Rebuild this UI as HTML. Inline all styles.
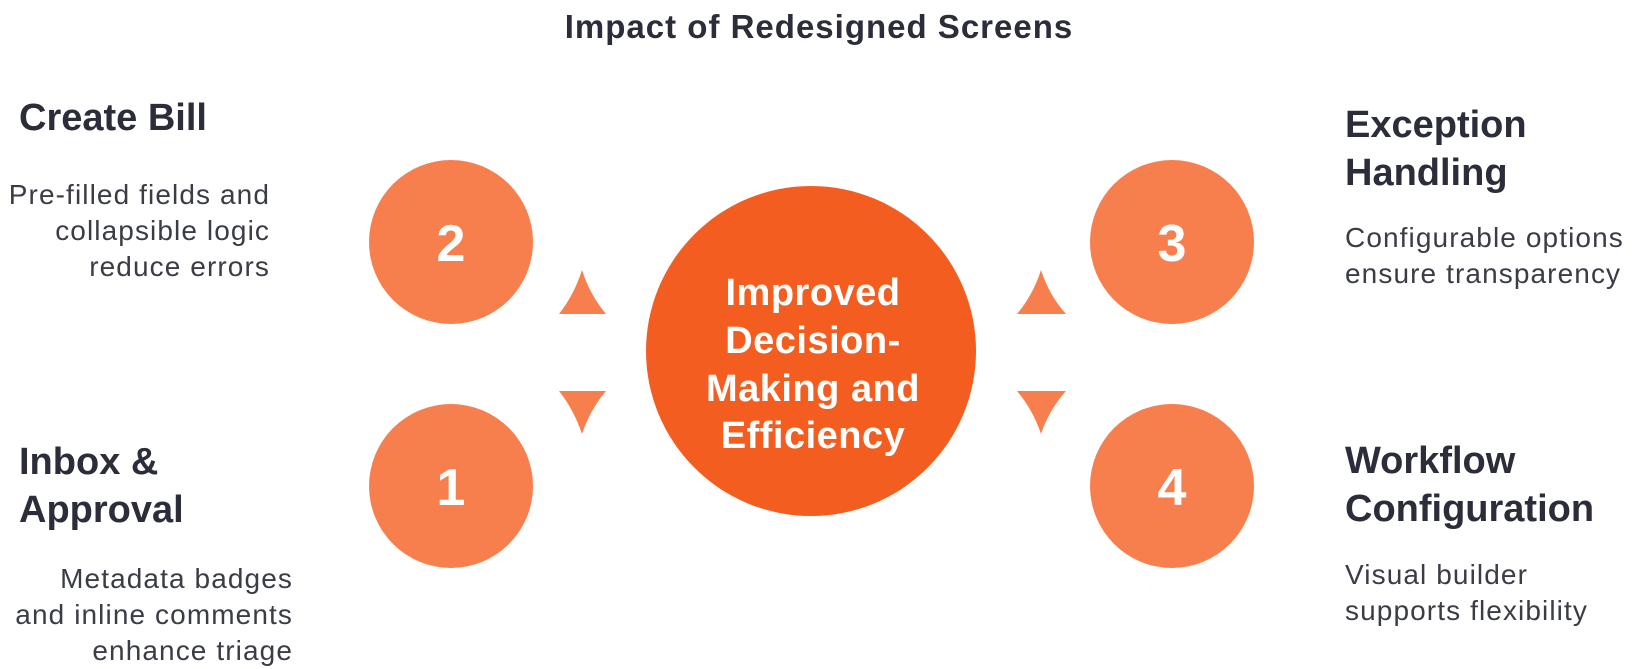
<!DOCTYPE html>
<html><head><meta charset="utf-8"><style>
html,body{margin:0;padding:0;background:#fff;}
body{width:1638px;height:668px;position:relative;overflow:hidden;font-family:"Liberation Sans",sans-serif;color:#2b2d3a;}
.t{position:absolute;white-space:nowrap;}
.h{font-weight:bold;font-size:38px;line-height:48px;letter-spacing:0px;}
.d{font-size:28px;line-height:36px;color:#3a3c46;letter-spacing:1.1px;}
.r{text-align:right;}
</style></head><body>
<svg width="1638" height="668" style="position:absolute;left:0;top:0">
<circle cx="451" cy="242" r="82" fill="#f77f4e"/>
<circle cx="451" cy="486" r="82" fill="#f77f4e"/>
<circle cx="1172" cy="242" r="82" fill="#f77f4e"/>
<circle cx="1172" cy="486" r="82" fill="#f77f4e"/>
<circle cx="811" cy="351" r="165" fill="#f45d20"/>
<path d="M582 270 Q590 295 606 314 L559 314 Q574 295 582 270Z" fill="#f77f4e"/>
<path d="M582 434 Q590 410 606 391 L559 391 Q574 410 582 434Z" fill="#f77f4e"/>
<path d="M1041 270 Q1049 295 1066 314 L1017 314 Q1033 295 1041 270Z" fill="#f77f4e"/>
<path d="M1041 434 Q1049 410 1066 391 L1017 391 Q1033 410 1041 434Z" fill="#f77f4e"/>
<g font-family="Liberation Sans, sans-serif" font-weight="bold" font-size="52" fill="#fff" text-anchor="middle">
<text x="451" y="261">2</text><text x="451" y="505">1</text>
<text x="1172" y="261">3</text><text x="1172" y="505">4</text>
</g>
<g font-family="Liberation Sans, sans-serif" font-weight="bold" font-size="38" fill="#fff" text-anchor="middle" letter-spacing="0.5">
<text x="813" y="305">Improved</text>
<text x="813" y="353">Decision-</text>
<text x="813" y="401">Making and</text>
<text x="813" y="448">Efficiency</text>
</g>
<text x="819" y="38" text-anchor="middle" font-family="Liberation Sans, sans-serif" font-weight="bold" font-size="33" letter-spacing="1" fill="#2b2d3a">Impact of Redesigned Screens</text>
</svg>
<div class="t h" style="left:19px;top:94px">Create Bill</div>
<div class="t d r" style="right:1368px;top:177px">Pre-filled fields and<br>collapsible logic<br>reduce errors</div>
<div class="t h" style="left:19px;top:438px">Inbox &amp;<br>Approval</div>
<div class="t d r" style="right:1345px;top:561px">Metadata badges<br>and inline comments<br>enhance triage</div>
<div class="t h" style="left:1345px;top:101px">Exception<br>Handling</div>
<div class="t d" style="left:1345px;top:220px">Configurable options<br>ensure transparency</div>
<div class="t h" style="left:1345px;top:437px">Workflow<br>Configuration</div>
<div class="t d" style="left:1345px;top:557px">Visual builder<br>supports flexibility</div>
</body></html>
